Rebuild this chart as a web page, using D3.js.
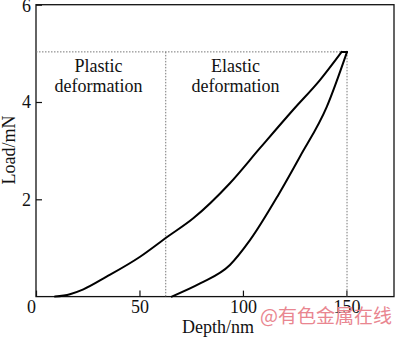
<!DOCTYPE html>
<html>
<head>
<meta charset="utf-8">
<script src="https://cdn.jsdelivr.net/npm/d3@7"></script>
<style>
  body { margin: 0; background: #fff; }
  text { font-family: "Liberation Serif", "Times New Roman", serif; fill: #111; }
</style>
</head>
<body>
<script>
// loading branch (depth nm, load mN)
const loadDepth = [9.2, 16.4, 22.9, 34.1, 50.3, 63.2, 76, 93.7, 108.2, 124.3, 137.2, 147.7];
const loadForce = [0, 0.05, 0.15, 0.41, 0.82, 1.22, 1.61, 2.33, 3.05, 3.84, 4.45, 5.03];
// unloading branch
const unloadDepth = [150.3, 140.5, 127.6, 117.1, 103.4, 93.7, 79.3, 65.6];
const unloadForce = [5.03, 3.9, 2.88, 2.09, 1.16, 0.65, 0.27, 0];

const xTicks = [0, 50, 100, 150];
const yTicks = [2, 4, 6];
const maxLoad = 5.03, maxDepth = 150.3, plasticDepth = 62.7;

const width = 400, height = 339;
const svg = d3.select("body").append("svg")
  .attr("width", width)
  .attr("height", height);

const x = d3.scaleLinear().domain([0, 173]).range([36, 394]);
const y = d3.scaleLinear().domain([0, 6]).range([296.6, 4.7]);

// frame
svg.append("rect")
  .attr("x", x(0)).attr("y", y(6))
  .attr("width", x(173) - x(0)).attr("height", y(0) - y(6))
  .attr("fill", "none").attr("stroke", "#111").attr("stroke-width", 1.3);

// axes, ticks pointing inward
const xAxis = svg.append("g")
  .attr("transform", `translate(0,${y(0)})`)
  .call(d3.axisBottom(x).tickValues(xTicks).tickSize(-6).tickPadding(4).tickFormat(d3.format("d")));
const yAxis = svg.append("g")
  .attr("transform", `translate(${x(0)},0)`)
  .call(d3.axisLeft(y).tickValues(yTicks).tickSize(-6).tickPadding(5).tickFormat(d3.format("d")));

[xAxis, yAxis].forEach(g => {
  g.select(".domain").remove();
  g.selectAll("line").attr("stroke", "#111").attr("stroke-width", 1.2);
  g.selectAll("text").style("font-size", "18px").attr("fill", "#111")
    .style("font-family", "Liberation Serif");
});
xAxis.selectAll("text").filter(d => d === 0).attr("x", -5);
yAxis.selectAll("text").filter(d => d === 6).attr("dy", "0.38em");

// dotted guides
const guides = [
  [[0, maxLoad], [maxDepth, maxLoad]],
  [[plasticDepth, maxLoad], [plasticDepth, 0]],
  [[maxDepth, maxLoad], [maxDepth, 0]]
];
guides.forEach(g => {
  svg.append("line")
    .attr("x1", x(g[0][0])).attr("y1", y(g[0][1]))
    .attr("x2", x(g[1][0])).attr("y2", y(g[1][1]))
    .attr("stroke", "#777").attr("stroke-width", 1)
    .attr("stroke-dasharray", "1.5,1.5");
});

// load-unload curve: two monotone branches joined at the peak
const loading = loadDepth.map((d, i) => [d, loadForce[i]]);
const unloading = unloadDepth.map((d, i) => [d, unloadForce[i]]).reverse();
const line = d3.line()
  .x(d => x(d[0]))
  .y(d => y(d[1]))
  .curve(d3.curveMonotoneX);
[loading, unloading, [loading[loading.length - 1], unloading[unloading.length - 1]]].forEach(p => {
  svg.append("path")
    .datum(p)
    .attr("d", line)
    .attr("fill", "none")
    .attr("stroke", "#000")
    .attr("stroke-width", 2)
    .attr("stroke-linejoin", "round")
    .attr("stroke-linecap", "round");
});

// region labels
const notes = [
  { cx: 98.5, lines: ["Plastic", "deformation"] },
  { cx: 235.5, lines: ["Elastic", "deformation"] }
];
notes.forEach(n => {
  n.lines.forEach((t, i) => {
    svg.append("text")
      .attr("x", n.cx)
      .attr("y", 71.7 + i * 20)
      .attr("text-anchor", "middle")
      .style("font-size", "18px")
      .text(t);
  });
});

// axis titles
svg.append("text")
  .attr("x", 218).attr("y", 333)
  .attr("text-anchor", "middle")
  .style("font-size", "18px")
  .text("Depth/nm");
svg.append("text")
  .attr("transform", "rotate(-90)")
  .attr("x", -150).attr("y", 15)
  .attr("text-anchor", "middle")
  .style("font-size", "18px")
  .text("Load/mN");

// watermark
svg.append("text")
  .attr("x", 326).attr("y", 323)
  .attr("text-anchor", "middle")
  .style("font-family", "'Noto Sans CJK SC', sans-serif")
  .style("font-size", "19px")
  .style("fill", "#e98690")
  .text("@有色金属在线");
</script>
</body>
</html>
